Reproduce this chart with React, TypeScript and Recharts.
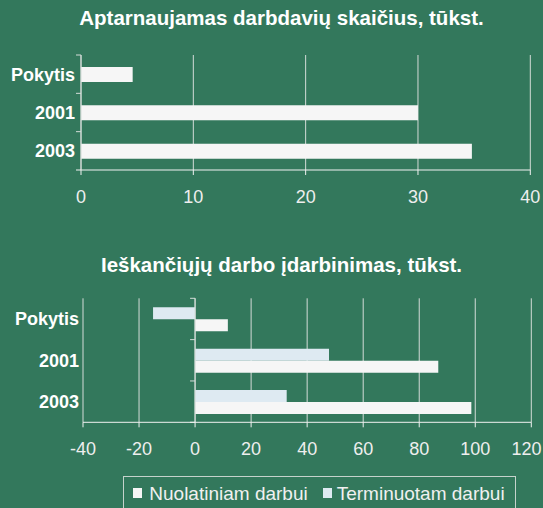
import React from 'react';
import { BarChart, Bar, XAxis, YAxis, CartesianGrid, ReferenceLine } from 'recharts';

// data
const categories = ['Pokytis', '2001', '2003'];
const employers = [4.6, 30, 34.8];
const permanentJobs = [11.7, 86.8, 98.6];
const temporaryJobs = [-15, 47.8, 32.7];
const topTicks = [0, 10, 20, 30, 40];
const bottomTicks = [-40, -20, 0, 20, 40, 60, 80, 100, 120];
const seriesNames = ['Nuolatiniam darbui', 'Terminuotam darbui'];

const BG = '#33785c';
const WHITE = '#f6f6f6';
const BLUE = '#deeaf2';
const GRID = '#d4dcd8';
const AXIS = '#f2f2f2';
const FONT = '"Liberation Sans", Arial, sans-serif';

const W = 543;

const topData = categories.map((name, i) => ({ name, value: employers[i] }));
const bottomData = categories.map((name, i) => ({
    name,
    permanent: permanentJobs[i],
    temporary: temporaryJobs[i],
}));

// bottom chart geometry, used to put the category axis on the zero line
const B_LEFT = 83;
const B_RIGHT = 11.7;
const B_MIN = bottomTicks[0];
const B_MAX = bottomTicks[bottomTicks.length - 1];
const zeroX = B_LEFT + ((0 - B_MIN) / (B_MAX - B_MIN)) * (W - B_LEFT - B_RIGHT);

function CatTick(props: any) {
    const { y, payload, index, labelX, axisX, band, count } = props;
    return (
        <g>
            <text
                x={labelX}
                y={y}
                dy="0.36em"
                textAnchor="end"
                fill="#ffffff"
                fontSize={18}
                fontWeight="bold"
                fontFamily={FONT}
            >
                {payload.value}
            </text>
            <line x1={axisX - 5} x2={axisX} y1={y - band / 2} y2={y - band / 2} stroke={GRID} />
            {index === count - 1 && (
                <line x1={axisX - 5} x2={axisX} y1={y + band / 2} y2={y + band / 2} stroke={AXIS} />
            )}
        </g>
    );
}

// value tick; the last one is pulled in so it stays inside the picture
function ValueTick(props: any) {
    const { x, y, payload, max } = props;
    const last = payload.value === max;
    return (
        <text
            x={last ? W - 1.5 : x}
            y={y}
            dy="0.71em"
            textAnchor={last ? 'end' : 'middle'}
            fill="#eeeeee"
            fontSize={18}
            fontFamily={FONT}
        >
            {payload.value}
        </text>
    );
}

const titleStyle: React.CSSProperties = {
    position: 'absolute',
    left: 281.5 - 260,
    width: 520,
    textAlign: 'center',
    color: '#ffffff',
    fontWeight: 'bold',
    fontSize: 20.5,
    lineHeight: '20.5px',
    whiteSpace: 'nowrap',
};

export default function App() {
    return (
        <div
            style={{
                position: 'absolute',
                left: 0,
                top: 0,
                width: W,
                height: 508,
                background: BG,
                overflow: 'hidden',
                fontFamily: FONT,
            }}
        >
            <div style={{ ...titleStyle, top: 8.4 }}>Aptarnaujamas darbdavių skaičius, tūkst.</div>

            <div style={{ position: 'absolute', left: 0, top: 0 }}>
                <BarChart
                    width={W}
                    height={215}
                    data={topData}
                    layout="vertical"
                    margin={{ top: 55, right: 12.7, bottom: 0, left: 0 }}
                >
                    <CartesianGrid horizontal={false} stroke={GRID} />
                    <XAxis
                        type="number"
                        domain={[0, 40]}
                        ticks={topTicks}
                        interval={0}
                        height={45}
                        axisLine={{ stroke: AXIS }}
                        tickLine={{ stroke: AXIS }}
                        tickSize={5}
                        tickMargin={15}
                        tick={(p: any) => <ValueTick {...p} max={999} />}
                    />
                    <YAxis
                        type="category"
                        dataKey="name"
                        width={81}
                        interval={0}
                        axisLine={{ stroke: GRID }}
                        tickLine={false}
                        tick={(p: any) => (
                            <CatTick {...p} labelX={75} axisX={81} band={115 / 3} count={categories.length} />
                        )}
                    />
                    <Bar dataKey="value" fill={WHITE} barSize={15} isAnimationActive={false} />
                </BarChart>
            </div>

            <div style={{ ...titleStyle, top: 255 }}>Ieškančiųjų darbo įdarbinimas, tūkst.</div>

            <div style={{ position: 'absolute', left: 0, top: 250 }}>
                <BarChart
                    width={W}
                    height={215}
                    data={bottomData}
                    layout="vertical"
                    barGap={0}
                    margin={{ top: 48.3, right: B_RIGHT, bottom: 0, left: 0 }}
                >
                    <CartesianGrid horizontal={false} stroke={GRID} />
                    <XAxis
                        type="number"
                        domain={[B_MIN, B_MAX]}
                        ticks={bottomTicks}
                        interval={0}
                        height={42.7}
                        axisLine={{ stroke: AXIS }}
                        tickLine={{ stroke: AXIS }}
                        tickSize={5}
                        tickMargin={15}
                        tick={(p: any) => <ValueTick {...p} max={B_MAX} />}
                    />
                    <YAxis
                        type="category"
                        dataKey="name"
                        width={B_LEFT}
                        interval={0}
                        axisLine={false}
                        tickLine={false}
                        tick={(p: any) => (
                            <CatTick {...p} labelX={79} axisX={zeroX} band={124 / 3} count={categories.length} />
                        )}
                    />
                    <ReferenceLine x={0} stroke={GRID} />
                    <Bar dataKey="temporary" name={seriesNames[1]} fill={BLUE} barSize={12} isAnimationActive={false} />
                    <Bar dataKey="permanent" name={seriesNames[0]} fill={WHITE} barSize={12} isAnimationActive={false} />
                </BarChart>
            </div>

            {/* legend */}
            <div
                style={{
                    position: 'absolute',
                    left: 122.7,
                    top: 476,
                    width: 393,
                    height: 40,
                    border: '1px solid #c6d2cc',
                    boxSizing: 'border-box',
                }}
            >
                {[
                    { name: seriesNames[0], color: WHITE, sq: 10, tx: 26.6 },
                    { name: seriesNames[1], color: BLUE, sq: 200, tx: 214 },
                ].map((it) => (
                    <React.Fragment key={it.name}>
                        <span
                            style={{
                                position: 'absolute',
                                left: it.sq - 1,
                                top: 11,
                                width: 9,
                                height: 10,
                                background: it.color,
                            }}
                        />
                        <span
                            style={{
                                position: 'absolute',
                                left: it.tx - 1,
                                top: 7.3,
                                fontSize: 19,
                                lineHeight: '19px',
                                color: '#f0f0f0',
                                whiteSpace: 'nowrap',
                            }}
                        >
                            {it.name}
                        </span>
                    </React.Fragment>
                ))}
            </div>
        </div>
    );
}
